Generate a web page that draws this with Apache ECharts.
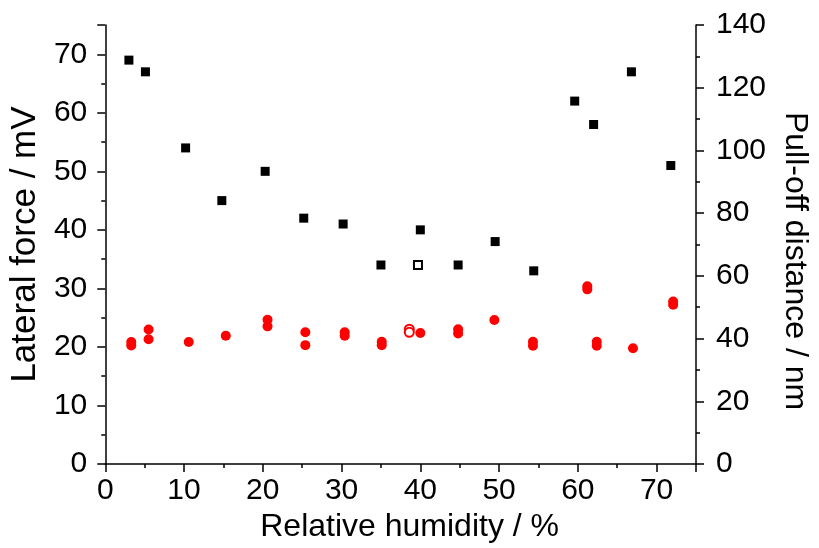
<!DOCTYPE html>
<html><head><meta charset="utf-8">
<script src="https://cdn.jsdelivr.net/npm/echarts@6/dist/echarts.min.js"></script>
<style>html,body{margin:0;padding:0;background:#fff}#c{width:819px;height:548px}</style>
</head><body><div id="c"></div>
<script>
// Lateral force (left axis, mV) - filled squares
const rhSquare = [3.0, 5.1, 10.2, 14.8, 20.3, 25.2, 30.2, 35.0, 40.0, 44.8, 49.5, 54.4, 59.6, 62.0, 66.8, 71.8];
const lateralForce = [69, 67, 54, 45, 50, 42, 41, 34, 40, 34, 38, 33, 62, 58, 67, 51];
// Lateral force - open square
const rhSquareOpen = [39.7];
const lateralForceOpen = [34];
// Pull-off distance (right axis, nm) - filled circles
const rhCircle = [3.3, 3.3, 5.5, 5.5, 10.6, 15.3, 20.6, 20.6, 25.4, 25.4, 30.4, 30.4, 35.1, 35.1, 40.0, 44.8, 44.8, 49.4, 54.3, 54.3, 61.2, 61.2, 62.4, 62.4, 67.0, 72.1, 72.1];
const pullOff = [38.9, 37.8, 42.9, 39.8, 38.9, 40.9, 46.0, 43.9, 42.0, 37.9, 42.0, 40.9, 39.0, 37.9, 41.8, 43.0, 41.6, 45.9, 39.0, 37.7, 56.7, 55.7, 39.0, 37.7, 36.9, 51.8, 50.8];
// Pull-off distance - open circles
const rhCircleOpen = [38.6, 38.6];
const pullOffOpen = [43.0, 42.0];
// Axis ranges and ticks
const xRange = [0, 75], xMajor = 10, xMinor = 5;
const yLeftRange = [0, 75], yLeftMajor = 10, yLeftMinor = 5;
const yRightRange = [0, 140], yRightMajor = 20, yRightMinor = 10;

const zip = (a, b) => a.map((v, i) => [v, b[i]]);
const FONT = 'Liberation Sans';
const lineStyle = {color: '#000', width: 1.5};
const labelHide10 = v => (v % 10 === 0 ? String(v) : '');

const chart = echarts.init(document.getElementById('c'), null, {renderer: 'canvas'});
chart.setOption({
  backgroundColor: '#fff',
  animation: false,
  grid: {left: 104, right: 119, top: 25, bottom: 84, containLabel: false},
  xAxis: [
    {type: 'value', min: xRange[0], max: xRange[1], interval: xMajor,
     name: 'Relative humidity / %', nameLocation: 'middle', nameGap: 45,
     nameTextStyle: {fontFamily: FONT, fontSize: 32, color: '#000', padding: [0, 0, 0, 18]},
     axisLine: {lineStyle}, axisTick: {length: 8, lineStyle},
     minorTick: {show: true, splitNumber: xMajor / xMinor, length: 4, lineStyle},
     axisLabel: {fontFamily: FONT, fontSize: 30, color: '#000', margin: 12, formatter: labelHide10},
     splitLine: {show: false}}
  ],
  yAxis: [
    {type: 'value', min: yLeftRange[0], max: yLeftRange[1], interval: yLeftMajor, position: 'left',
     name: 'Lateral force / mV', nameLocation: 'middle', nameGap: 54, nameRotate: 90,
     nameTextStyle: {fontFamily: FONT, fontSize: 35, color: '#000'},
     axisLine: {show: true, lineStyle}, axisTick: {length: 8, lineStyle},
     minorTick: {show: true, splitNumber: yLeftMajor / yLeftMinor, length: 4, lineStyle},
     axisLabel: {fontFamily: FONT, fontSize: 30, color: '#000', margin: 18, formatter: labelHide10},
     splitLine: {show: false}},
    {type: 'value', min: yRightRange[0], max: yRightRange[1], interval: yRightMajor, position: 'right',
     name: 'Pull-off distance / nm', nameLocation: 'middle', nameGap: 83, nameRotate: -90,
     nameTextStyle: {fontFamily: FONT, fontSize: 32, color: '#000', padding: [0, 0, 0, 33]},
     axisLine: {show: true, lineStyle}, axisTick: {length: 8, lineStyle},
     minorTick: {show: true, splitNumber: yRightMajor / yRightMinor, length: 4, lineStyle},
     axisLabel: {fontFamily: FONT, fontSize: 30, color: '#000', margin: 20},
     splitLine: {show: false}}
  ],
  series: [
    {type: 'scatter', xAxisIndex: 0, yAxisIndex: 1, symbol: 'circle', symbolSize: 10,
     itemStyle: {color: '#ff0000', opacity: 1}, data: zip(rhCircle, pullOff)},
    {type: 'scatter', xAxisIndex: 0, yAxisIndex: 1, symbol: 'emptyCircle', symbolSize: 9,
     itemStyle: {color: '#ff0000', borderColor: '#ff0000', borderWidth: 1, opacity: 1}, data: zip(rhCircleOpen, pullOffOpen)},
    {type: 'scatter', xAxisIndex: 0, yAxisIndex: 0, symbol: 'rect', symbolSize: 9,
     itemStyle: {color: '#000', opacity: 1}, data: zip(rhSquare, lateralForce)},
    {type: 'scatter', xAxisIndex: 0, yAxisIndex: 0, symbol: 'emptyRect', symbolSize: 8,
     itemStyle: {color: '#000', borderColor: '#000', borderWidth: 1, opacity: 1}, data: zip(rhSquareOpen, lateralForceOpen)}
  ]
});
</script></body></html>
